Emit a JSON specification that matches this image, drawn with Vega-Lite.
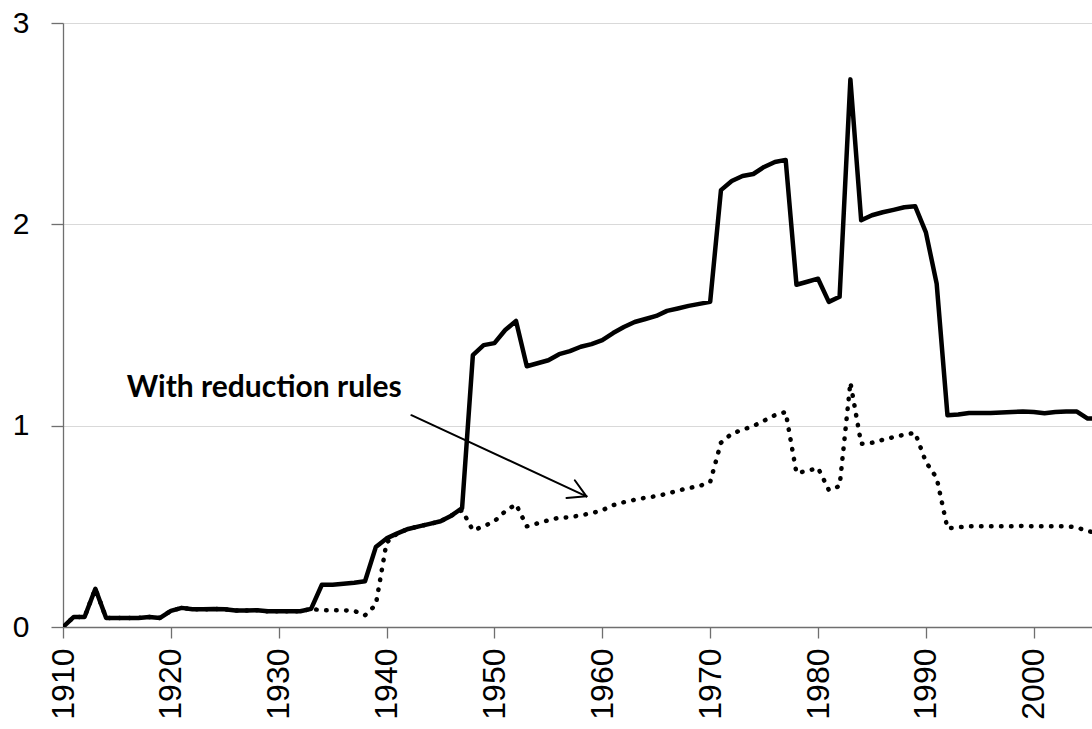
{
  "$schema": "https://vega.github.io/schema/vega-lite/v6.json",
  "width": 1029,
  "height": 604,
  "autosize": {"type": "none"},
  "padding": {"left": 63, "top": 23, "right": 0, "bottom": 102},
  "background": "white",
  "config": {"view": {"stroke": null}},
  "datasets": {
    "series": [
      {"year": 1910, "baseline": 0.0, "with_reduction_rules": 0.0},
      {"year": 1911, "baseline": 0.05, "with_reduction_rules": 0.05},
      {"year": 1912, "baseline": 0.05, "with_reduction_rules": 0.05},
      {"year": 1913, "baseline": 0.19, "with_reduction_rules": 0.19},
      {"year": 1914, "baseline": 0.045, "with_reduction_rules": 0.045},
      {"year": 1915, "baseline": 0.045, "with_reduction_rules": 0.045},
      {"year": 1916, "baseline": 0.045, "with_reduction_rules": 0.045},
      {"year": 1917, "baseline": 0.045, "with_reduction_rules": 0.045},
      {"year": 1918, "baseline": 0.05, "with_reduction_rules": 0.05},
      {"year": 1919, "baseline": 0.045, "with_reduction_rules": 0.045},
      {"year": 1920, "baseline": 0.08, "with_reduction_rules": 0.08},
      {"year": 1921, "baseline": 0.095, "with_reduction_rules": 0.095},
      {"year": 1922, "baseline": 0.088, "with_reduction_rules": 0.088},
      {"year": 1923, "baseline": 0.088, "with_reduction_rules": 0.088},
      {"year": 1924, "baseline": 0.09, "with_reduction_rules": 0.09},
      {"year": 1925, "baseline": 0.088, "with_reduction_rules": 0.088},
      {"year": 1926, "baseline": 0.082, "with_reduction_rules": 0.082},
      {"year": 1927, "baseline": 0.082, "with_reduction_rules": 0.082},
      {"year": 1928, "baseline": 0.083, "with_reduction_rules": 0.083},
      {"year": 1929, "baseline": 0.078, "with_reduction_rules": 0.078},
      {"year": 1930, "baseline": 0.078, "with_reduction_rules": 0.078},
      {"year": 1931, "baseline": 0.078, "with_reduction_rules": 0.078},
      {"year": 1932, "baseline": 0.078, "with_reduction_rules": 0.078},
      {"year": 1933, "baseline": 0.09, "with_reduction_rules": 0.09},
      {"year": 1934, "baseline": 0.21, "with_reduction_rules": 0.083},
      {"year": 1935, "baseline": 0.21, "with_reduction_rules": 0.083},
      {"year": 1936, "baseline": 0.215, "with_reduction_rules": 0.083},
      {"year": 1937, "baseline": 0.22, "with_reduction_rules": 0.08},
      {"year": 1938, "baseline": 0.227, "with_reduction_rules": 0.058},
      {"year": 1939, "baseline": 0.397, "with_reduction_rules": 0.11},
      {"year": 1940, "baseline": 0.44, "with_reduction_rules": 0.42},
      {"year": 1941, "baseline": 0.465, "with_reduction_rules": 0.465},
      {"year": 1942, "baseline": 0.487, "with_reduction_rules": 0.487},
      {"year": 1943, "baseline": 0.5, "with_reduction_rules": 0.5},
      {"year": 1944, "baseline": 0.512, "with_reduction_rules": 0.512},
      {"year": 1945, "baseline": 0.525, "with_reduction_rules": 0.525},
      {"year": 1946, "baseline": 0.553, "with_reduction_rules": 0.553},
      {"year": 1947, "baseline": 0.59, "with_reduction_rules": 0.58},
      {"year": 1948, "baseline": 1.35, "with_reduction_rules": 0.48},
      {"year": 1949, "baseline": 1.4, "with_reduction_rules": 0.5},
      {"year": 1950, "baseline": 1.41, "with_reduction_rules": 0.525},
      {"year": 1951, "baseline": 1.475, "with_reduction_rules": 0.575},
      {"year": 1952, "baseline": 1.52, "with_reduction_rules": 0.61},
      {"year": 1953, "baseline": 1.295, "with_reduction_rules": 0.5},
      {"year": 1954, "baseline": 1.31, "with_reduction_rules": 0.515},
      {"year": 1955, "baseline": 1.325, "with_reduction_rules": 0.53},
      {"year": 1956, "baseline": 1.355, "with_reduction_rules": 0.543},
      {"year": 1957, "baseline": 1.37, "with_reduction_rules": 0.545},
      {"year": 1958, "baseline": 1.392, "with_reduction_rules": 0.555},
      {"year": 1959, "baseline": 1.405, "with_reduction_rules": 0.565},
      {"year": 1960, "baseline": 1.425, "with_reduction_rules": 0.58},
      {"year": 1961, "baseline": 1.46, "with_reduction_rules": 0.605},
      {"year": 1962, "baseline": 1.49, "with_reduction_rules": 0.62},
      {"year": 1963, "baseline": 1.515, "with_reduction_rules": 0.632},
      {"year": 1964, "baseline": 1.53, "with_reduction_rules": 0.642},
      {"year": 1965, "baseline": 1.545, "with_reduction_rules": 0.65},
      {"year": 1966, "baseline": 1.57, "with_reduction_rules": 0.662},
      {"year": 1967, "baseline": 1.582, "with_reduction_rules": 0.677},
      {"year": 1968, "baseline": 1.595, "with_reduction_rules": 0.69},
      {"year": 1969, "baseline": 1.605, "with_reduction_rules": 0.7},
      {"year": 1970, "baseline": 1.615, "with_reduction_rules": 0.72},
      {"year": 1971, "baseline": 2.17, "with_reduction_rules": 0.915},
      {"year": 1972, "baseline": 2.215, "with_reduction_rules": 0.96},
      {"year": 1973, "baseline": 2.24, "with_reduction_rules": 0.98},
      {"year": 1974, "baseline": 2.25, "with_reduction_rules": 0.998},
      {"year": 1975, "baseline": 2.285, "with_reduction_rules": 1.025},
      {"year": 1976, "baseline": 2.31, "with_reduction_rules": 1.052},
      {"year": 1977, "baseline": 2.32, "with_reduction_rules": 1.068},
      {"year": 1978, "baseline": 1.7, "with_reduction_rules": 0.765},
      {"year": 1979, "baseline": 1.715, "with_reduction_rules": 0.775},
      {"year": 1980, "baseline": 1.73, "with_reduction_rules": 0.79},
      {"year": 1981, "baseline": 1.615, "with_reduction_rules": 0.68},
      {"year": 1982, "baseline": 1.64, "with_reduction_rules": 0.7},
      {"year": 1983, "baseline": 2.72, "with_reduction_rules": 1.215},
      {"year": 1984, "baseline": 2.02, "with_reduction_rules": 0.91},
      {"year": 1985, "baseline": 2.045, "with_reduction_rules": 0.915},
      {"year": 1986, "baseline": 2.06, "with_reduction_rules": 0.93},
      {"year": 1987, "baseline": 2.072, "with_reduction_rules": 0.943},
      {"year": 1988, "baseline": 2.085, "with_reduction_rules": 0.955},
      {"year": 1989, "baseline": 2.09, "with_reduction_rules": 0.965},
      {"year": 1990, "baseline": 1.96, "with_reduction_rules": 0.82},
      {"year": 1991, "baseline": 1.705, "with_reduction_rules": 0.74},
      {"year": 1992, "baseline": 1.052, "with_reduction_rules": 0.49},
      {"year": 1993, "baseline": 1.055, "with_reduction_rules": 0.495},
      {"year": 1994, "baseline": 1.063, "with_reduction_rules": 0.5},
      {"year": 1995, "baseline": 1.063, "with_reduction_rules": 0.5},
      {"year": 1996, "baseline": 1.063, "with_reduction_rules": 0.5},
      {"year": 1997, "baseline": 1.065, "with_reduction_rules": 0.5},
      {"year": 1998, "baseline": 1.068, "with_reduction_rules": 0.5},
      {"year": 1999, "baseline": 1.07, "with_reduction_rules": 0.502},
      {"year": 2000, "baseline": 1.068, "with_reduction_rules": 0.5},
      {"year": 2001, "baseline": 1.062, "with_reduction_rules": 0.5},
      {"year": 2002, "baseline": 1.068, "with_reduction_rules": 0.5},
      {"year": 2003, "baseline": 1.07, "with_reduction_rules": 0.5},
      {"year": 2004, "baseline": 1.07, "with_reduction_rules": 0.495},
      {"year": 2005, "baseline": 1.035, "with_reduction_rules": 0.475},
      {"year": 2006, "baseline": 1.035, "with_reduction_rules": 0.47}
    ],
    "arrow": [
      {"x": 1942.3, "y": 1.052, "x2": 1958.53, "y2": 0.649},
      {"x": 1958.53, "y": 0.649, "x2": 1957.45, "y2": 0.729},
      {"x": 1958.53, "y": 0.649, "x2": 1956.68, "y2": 0.641}
    ],
    "label": [
      {"x": 1915.9, "y": 1.143, "text": "With reduction rules"}
    ]
  },
  "layer": [
    {
      "data": {"name": "series"},
      "mark": {"type": "line", "color": "black", "strokeWidth": 4.5, "strokeCap": "round", "strokeDash": [0.5, 9.5], "clip": true},
      "encoding": {
        "x": {
          "field": "year", "type": "quantitative", "title": null,
          "scale": {"domain": [1910, 2005.4], "nice": false, "zero": false},
          "axis": {
            "values": [1910, 1920, 1930, 1940, 1950, 1960, 1970, 1980, 1990, 2000],
            "format": "d", "labelAngle": -90, "grid": false,
            "tickSize": 11, "labelPadding": 10,
            "labelFont": "Liberation Sans", "labelFontSize": 32, "labelColor": "#000000",
            "domainColor": "#6f6f6f", "tickColor": "#6f6f6f", "domainWidth": 1.3, "tickWidth": 1.3
          }
        },
        "y": {
          "field": "with_reduction_rules", "type": "quantitative", "title": null,
          "scale": {"domain": [0, 3], "nice": false},
          "axis": {
            "values": [0, 1, 2, 3], "format": "d", "grid": true,
            "gridColor": "#d9d9d9", "gridWidth": 1,
            "tickSize": 12, "labelPadding": 22,
            "labelFont": "Liberation Sans", "labelFontSize": 30, "labelColor": "#000000",
            "domainColor": "#6f6f6f", "tickColor": "#6f6f6f", "domainWidth": 1.3, "tickWidth": 1.3
          }
        }
      }
    },
    {
      "data": {"name": "series"},
      "mark": {"type": "line", "color": "black", "strokeWidth": 4.5, "strokeJoin": "round", "clip": true},
      "encoding": {
        "x": {"field": "year", "type": "quantitative", "title": null},
        "y": {"field": "baseline", "type": "quantitative", "title": null}
      }
    },
    {
      "data": {"name": "arrow"},
      "mark": {"type": "rule", "color": "black", "strokeWidth": 2, "strokeCap": "round"},
      "encoding": {
        "x": {"field": "x", "type": "quantitative", "title": null},
        "y": {"field": "y", "type": "quantitative", "title": null},
        "x2": {"field": "x2"},
        "y2": {"field": "y2"}
      }
    },
    {
      "data": {"name": "label"},
      "mark": {"type": "text", "align": "left", "baseline": "alphabetic", "font": "Lato", "fontWeight": "bold", "fontSize": 30, "color": "black"},
      "encoding": {
        "x": {"field": "x", "type": "quantitative", "title": null},
        "y": {"field": "y", "type": "quantitative", "title": null},
        "text": {"field": "text"}
      }
    }
  ]
}
